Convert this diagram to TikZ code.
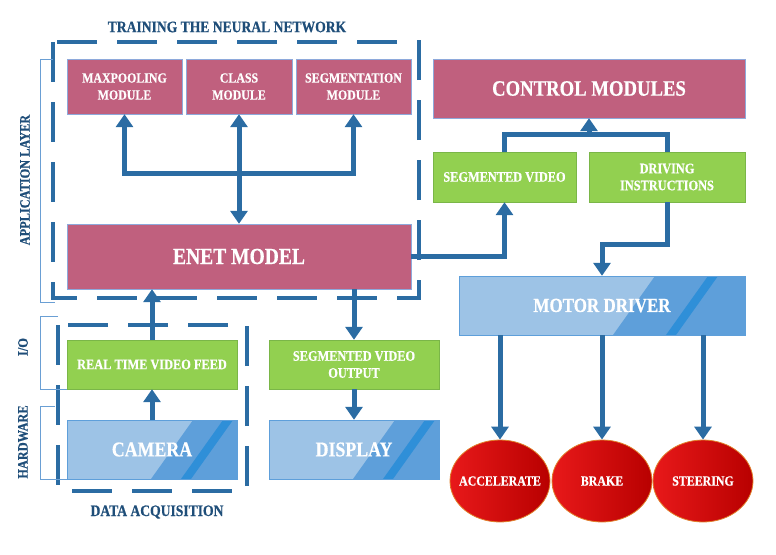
\documentclass[tikz,border=0pt]{standalone}
\usepackage{fontspec}
\setmainfont{Liberation Serif}
\newfontfamily\boxfont{Liberation Serif}[UprightFeatures={FakeStretch=0.85}, BoldFeatures={FakeStretch=0.85,FakeBold=0.5}]
\usetikzlibrary{shapes.geometric}
\usetikzlibrary{arrows.meta}

\definecolor{modpink}{HTML}{C0607E}
\definecolor{pinkedge}{HTML}{8EA9DB}
\definecolor{feedgreen}{HTML}{92D050}
\definecolor{greenedge}{HTML}{7AB648}
\definecolor{lightblue}{HTML}{9DC3E6}
\definecolor{bandblue}{HTML}{5E9FDA}
\definecolor{stripeblue}{HTML}{2F8FD8}
\definecolor{flowblue}{HTML}{2B6CA3}
\definecolor{titleblue}{HTML}{1F4E79}
\definecolor{bracketblue}{HTML}{6A9FD4}
\definecolor{redlight}{HTML}{E8191A}
\definecolor{reddark}{HTML}{B80000}
\definecolor{rededge}{HTML}{E0802A}

\begin{document}
\begin{tikzpicture}[x=1pt,y=-1pt,
    pinkbox/.style={draw=pinkedge, fill=modpink, text=white, align=center, inner sep=2pt,
        font={\boxfont\bfseries\fontsize{14}{17}\selectfont}},
    greenbox/.style={draw=greenedge, fill=feedgreen, text=white, align=center, inner sep=2pt,
        font={\boxfont\bfseries\fontsize{14.5}{17}\selectfont}},
    bluebox/.style 2 args={draw=bandblue, fill=lightblue, text=white, inner sep=2pt,
        font={\boxfont\bfseries\fontsize{21}{23}\selectfont},
        path picture={
            \fill[bandblue] ([xshift=-#1]path picture bounding box.north east)
                -- (path picture bounding box.north east) -- (path picture bounding box.south east)
                -- ([xshift={-#1-42pt}]path picture bounding box.south east) -- cycle;
            \fill[stripeblue] ([xshift=-#2]path picture bounding box.north east)
                -- ([xshift={-#2-10pt}]path picture bounding box.north east)
                -- ([xshift={-#2-52pt}]path picture bounding box.south east)
                -- ([xshift={-#2-42pt}]path picture bounding box.south east) -- cycle;
        }},
    wheel/.style={ellipse, draw=rededge, line width=0.8pt, left color=redlight, right color=reddark,
        text=white, minimum width=100pt, minimum height=82pt, inner xsep=-7pt, inner ysep=0pt,
        font={\boxfont\bfseries\fontsize{14}{15}\selectfont}},
    dashbox/.style={draw=flowblue, line width=4pt, dash pattern=on 40pt off 20pt},
    bracket/.style={draw=bracketblue, line width=0.8pt},
    title/.style={text=titleblue, font={\boxfont\bfseries\fontsize{16}{18}\selectfont}},
    sidelabel/.style={text=titleblue, rotate=90, font={\boxfont\bfseries\fontsize{14.5}{16}\selectfont}},
    arr/.style={draw=flowblue, line width=5pt, -{Triangle[width=17pt,length=13pt]}},
    dblarr/.style={draw=flowblue, line width=5pt, {Triangle[width=17pt,length=13pt]}-{Triangle[width=17pt,length=13pt]}},
    flow/.style={draw=flowblue, line width=5pt}]
    \useasboundingbox (0,0) rectangle (776,554);

    % dashed groups
    \draw[dashbox] (53,42) rectangle (419,298);
    \node[title] (traintitle) at (227,27) {TRAINING THE NEURAL NETWORK};
    \draw[dashbox] (58,325) rectangle (247,491);
    \node[title] (acqtitle) at (157,512) {DATA ACQUISITION};

    % layer brackets
    \draw[bracket] (53,59) -| (40,302) -- (55,302);
    \node[sidelabel] (applab) at (25,180) {APPLICATION LAYER};
    \draw[bracket] (58,316) -| (40,389) -- (67,389);
    \node[sidelabel] (iolab) at (23,347) {I/O};
    \draw[bracket] (55,406) -| (40,479) -- (67,479);
    \node[sidelabel] (hwlab) at (23,442) {HARDWARE};

    % network modules
    \node[pinkbox, minimum width=115pt, minimum height=55pt] (maxpool) at (124.5,86.5) {MAXPOOLING\\MODULE};
    \node[pinkbox, minimum width=106pt, minimum height=55pt] (classm) at (239,86.5) {CLASS\\MODULE};
    \node[pinkbox, minimum width=115pt, minimum height=55pt] (segm) at (353.5,86.5) {SEGMENTATION\\MODULE};
    \node[pinkbox, minimum width=344pt, minimum height=65pt, font={\boxfont\bfseries\fontsize{23}{25}\selectfont}] (enet) at (239,256.5) {ENET MODEL};

    % input and output side
    \node[greenbox, minimum width=170pt, minimum height=49pt] (feed) at (152,364.5) {REAL TIME VIDEO FEED};
    \node[bluebox={44pt}{4pt}, minimum width=170pt, minimum height=59pt] (camera) at (152,449.5) {CAMERA};
    \node[greenbox, minimum width=170pt, minimum height=49pt] (segout) at (354,364.5) {SEGMENTED VIDEO\\OUTPUT};
    \node[bluebox={44pt}{4pt}, minimum width=170pt, minimum height=59pt] (display) at (354,449.5) {DISPLAY};

    % control side
    \node[pinkbox, minimum width=312pt, minimum height=59pt, font={\boxfont\bfseries\fontsize{22}{24}\selectfont}] (control) at (589,88.5) {CONTROL MODULES};
    \node[greenbox, minimum width=143pt, minimum height=50pt] (segvid) at (504.5,177) {SEGMENTED VIDEO};
    \node[greenbox, minimum width=156pt, minimum height=50pt] (driving) at (667,177) {DRIVING\\INSTRUCTIONS};
    \node[bluebox={90pt}{27pt}, minimum width=286pt, minimum height=59pt, font={\boxfont\bfseries\fontsize{20}{22}\selectfont}] (motor) at (602,305.5) {MOTOR DRIVER};

    % actuators
    \node[wheel] (accel) at (500,481) {ACCELERATE};
    \node[wheel] (brake) at (602,481) {BRAKE};
    \node[wheel] (steer) at (703,481) {STEERING};

    % connectors
    \coordinate (bus) at (239,173);
    \draw[arr] (bus) -| (maxpool.south);
    \draw[arr] (bus) -| (segm.south);
    \draw[dblarr] (enet.north) -- (classm.south);
    \draw[arr] (camera.north) -- (feed.south);
    \draw[arr] (feed.north) -- (feed.north |- enet.south);
    \draw[arr] (enet.south -| segout.north) -- (segout.north);
    \draw[arr] (segout.south) -- (display.north);
    \draw[arr] (enet.east) -| (segvid.south);
    \coordinate (hub) at (589,134);
    \draw[flow] (segvid.north) |- (hub) -| (driving.north);
    \draw[arr] (hub) -- (control.south);
    \coordinate (turn) at (602,244);
    \draw[arr] (driving.south) |- (turn) -- (motor.north);
    \draw[arr] (motor.south -| accel.north) -- (accel.north);
    \draw[arr] (motor.south) -- (brake.north);
    \draw[arr] (motor.south -| steer.north) -- (steer.north);
\end{tikzpicture}
\end{document}
